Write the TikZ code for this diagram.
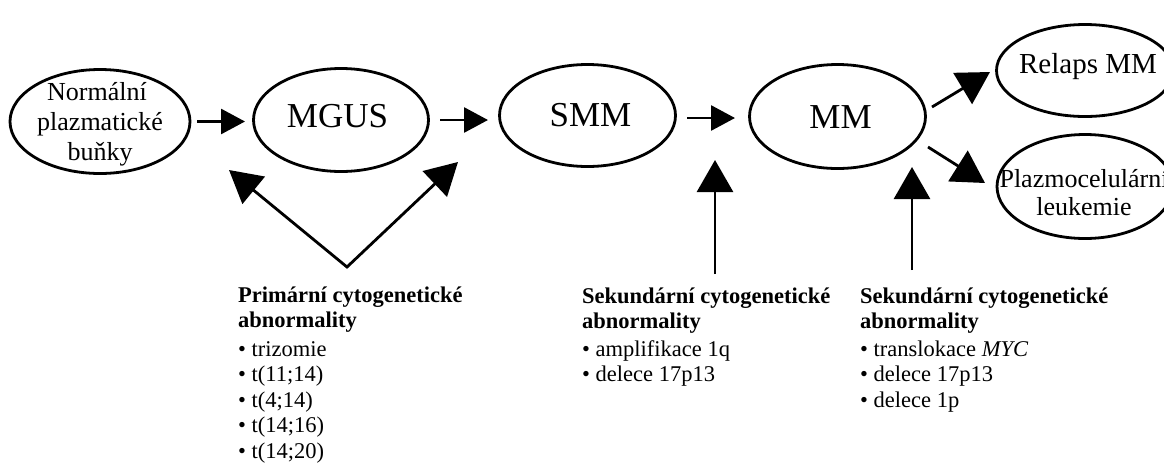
\documentclass[tikz,border=0pt]{standalone}
\usepackage{fontspec}
\setmainfont{Liberation Serif}
\usetikzlibrary{arrows.meta,shapes.geometric}
\newcommand{\fsz}[2]{\fontsize{#1}{#2}\selectfont}
\begin{document}
\begin{tikzpicture}[x=1pt,y=-1pt,
  oval/.style={draw, ellipse, inner sep=0pt, line width=2.8pt},
  txt/.style={inner sep=0pt, anchor=base},
  big/.style={txt, font=\fsz{35}{40}},
  mid/.style={txt, font=\fsz{26}{30}},
  bl/.style={inner sep=0pt, anchor=base west, font=\fsz{22.5}{26}},
  conn/.style={line width=2.8pt, line join=miter},
  harr/.style={conn, -{Triangle[length=24pt,width=25pt]}},
  barr/.style={conn, -{Triangle[length=32pt,width=36pt]}},
  varr/.style={conn, {Triangle[length=32pt,width=35pt]}-{Triangle[length=32pt,width=35pt]}}]
\fill[white] (0,0) rectangle (1164,475);
\useasboundingbox (0,0) rectangle (1164,475);

% ellipses
\node[oval, minimum width=180pt, minimum height=104pt] (norm) at (100,121.5) {};
\node[oval, minimum width=175pt, minimum height=103pt] (mgus) at (341,120) {};
\node[oval, minimum width=176pt, minimum height=102pt] (smm) at (587.5,115.5) {};
\node[oval, minimum width=176pt, minimum height=104pt] (mm) at (837.5,116.5) {};
\node[oval, minimum width=177pt, minimum height=92pt] (relaps) at (1085,70.5) {};
\node[oval, minimum width=176pt, minimum height=104pt] (plazmo) at (1085,186.5) {};

% ellipse labels
\node[mid] (t1a) at (97,100) {Normální};
\node[mid] (t1b) at (100,130) {plazmatické};
\node[mid] (t1c) at (100,160) {buňky};
\node[big] (tmgus) at (337.5,127) {MGUS};
\node[big] (tsmm) at (590.5,126) {SMM};
\node[big] (tmm) at (840.5,128) {MM};
\node[txt, font=\fsz{29}{32}] (trel) at (1088,73) {Relaps MM};
\node[mid] (tpl1) at (1084,187) {Plazmocelulární};
\node[mid] (tpl2) at (1084,215) {leukemie};

% arrow end points
\coordinate (a1s) at (197,121.5);
\coordinate (a1e) at (245,121.5);
\coordinate (a2s) at (440,120);
\coordinate (a2e) at (488,120);
\coordinate (a3s) at (687,118);
\coordinate (a3e) at (735,118);
\coordinate (r1s) at (932,107);
\coordinate (r1e) at (990,72);
\coordinate (p1s) at (928,147);
\coordinate (p1e) at (985,183);
\coordinate (u1s) at (715,274);
\coordinate (u1e) at (715,160);
\coordinate (u2s) at (912,270);
\coordinate (u2e) at (912,167);
\coordinate (vl) at (229,170);
\coordinate (vb) at (347,267);
\coordinate (vr) at (458,162);

\draw[harr] (a1s) -- (a1e);
\draw[harr] (a2s) -- (a2e);
\draw[harr] (a3s) -- (a3e);
\draw[barr] (r1s) -- (r1e);
\draw[barr] (p1s) -- (p1e);
\draw[barr] (u1s) -- (u1e);
\draw[barr] (u2s) -- (u2e);
\draw[varr] (vl) -- (vb) -- (vr);

% block 1
\node[bl] (b1a) at (238,302) {\bfseries Primární cytogenetické};
\node[bl] (b1b) at (238,327) {\bfseries abnormality};
\node[bl] (b1c) at (238,356.5) {• trizomie};
\node[bl] (b1d) at (238,381.5) {• t(11;14)};
\node[bl] (b1e) at (238,407) {• t(4;14)};
\node[bl] (b1f) at (238,432.5) {• t(14;16)};
\node[bl] (b1g) at (238,458) {• t(14;20)};
% block 2
\node[bl] (b2a) at (582,303) {\bfseries Sekundární cytogenetické};
\node[bl] (b2b) at (582,328) {\bfseries abnormality};
\node[bl] (b2c) at (582,356.5) {• amplifikace 1q};
\node[bl] (b2d) at (582,381.5) {• delece 17p13};
% block 3
\node[bl] (b3a) at (860,303) {\bfseries Sekundární cytogenetické};
\node[bl] (b3b) at (860,328) {\bfseries abnormality};
\node[bl] (b3c) at (860,356.5) {• translokace \textit{MYC}};
\node[bl] (b3d) at (860,381.5) {• delece 17p13};
\node[bl] (b3e) at (860,407) {• delece 1p};
\end{tikzpicture}
\end{document}
